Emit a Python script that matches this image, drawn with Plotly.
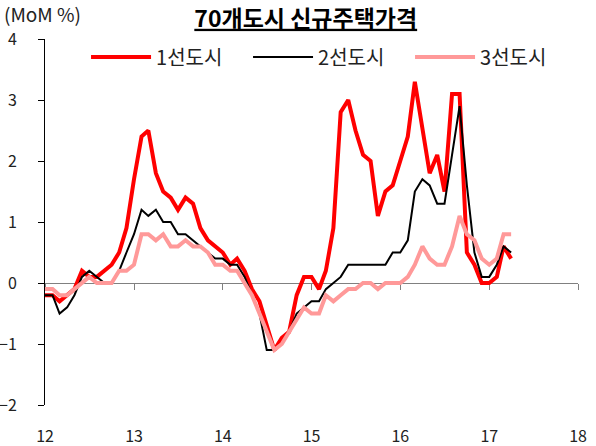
import pandas as pd
import plotly.graph_objects as go

# 월별 전월대비 변동률 (2012.01 ~ 2017.04)
months = pd.date_range('2012-01-01', '2017-04-01', freq='MS')

tier1 = [-0.2, -0.2, -0.3, -0.2, -0.1, 0.2, 0.1, 0.1, 0.2, 0.3, 0.5, 0.9,
         1.7, 2.4, 2.5, 1.8, 1.5, 1.4, 1.2, 1.4, 1.3, 0.9, 0.7, 0.6,
         0.5, 0.3, 0.4, 0.2, -0.1, -0.3, -0.7, -1.1, -0.9, -0.8, -0.2, 0.1,
         0.1, -0.1, 0.2, 0.9, 2.8, 3.0, 2.5, 2.1, 2.0, 1.1, 1.5, 1.6,
         2.0, 2.4, 3.3, 2.5, 1.8, 2.1, 1.5, 3.1, 3.1, 0.5, 0.3, 0.0,
         0.0, 0.1, 0.6, 0.4]
tier2 = [-0.2, -0.2, -0.5, -0.4, -0.2, 0.1, 0.2, 0.1, 0.0, 0.0, 0.2, 0.5,
         0.8, 1.2, 1.1, 1.2, 1.0, 1.0, 0.8, 0.8, 0.7, 0.6, 0.5, 0.4,
         0.4, 0.3, 0.3, 0.1, -0.2, -0.5, -1.1, -1.1, -1.0, -0.8, -0.5, -0.4,
         -0.3, -0.3, -0.1, 0.0, 0.1, 0.3, 0.3, 0.3, 0.3, 0.3, 0.3, 0.5,
         0.5, 0.7, 1.5, 1.7, 1.6, 1.3, 1.3, 2.1, 2.9, 1.6, 0.5, 0.1,
         0.1, 0.3, 0.6, 0.5]
tier3 = [-0.1, -0.1, -0.2, -0.2, -0.1, 0.0, 0.1, 0.0, 0.0, 0.0, 0.2, 0.2,
         0.3, 0.8, 0.8, 0.7, 0.8, 0.6, 0.6, 0.7, 0.6, 0.6, 0.5, 0.3,
         0.3, 0.2, 0.2, 0.0, -0.2, -0.5, -0.8, -1.1, -1.0, -0.8, -0.6, -0.4,
         -0.5, -0.5, -0.2, -0.3, -0.2, -0.1, -0.1, 0.0, 0.0, -0.1, 0.0, 0.0,
         0.0, 0.1, 0.3, 0.6, 0.4, 0.3, 0.3, 0.6, 1.1, 0.8, 0.7, 0.4,
         0.3, 0.4, 0.8, 0.8]

font = 'Noto Sans CJK KR'
x_range = ['2012-01-01', '2018-01-01']

fig = go.Figure()
fig.add_trace(go.Scatter(x=months, y=tier1, name='1선도시', mode='lines',
                         line=dict(color='#FF0000', width=4)))
fig.add_trace(go.Scatter(x=months, y=tier2, name='2선도시', mode='lines',
                         line=dict(color='#000000', width=2)))
fig.add_trace(go.Scatter(x=months, y=tier3, name='3선도시', mode='lines', xaxis='x2',
                         line=dict(color='#FF9999', width=4)))

fig.update_layout(
    width=596, height=446,
    margin=dict(l=45, r=18, t=39, b=41, autoexpand=False),
    paper_bgcolor='white', plot_bgcolor='white',
    font=dict(family=font, size=16, color='#222222'),
    title=dict(text='<b><u>70개도시 신규주택가격</u></b>', x=0.513, xref='container',
               y=0.958, yref='container', xanchor='center', yanchor='middle',
               font=dict(size=23, color='#000000')),
    showlegend=True,
    legend=dict(orientation='h', x=0.077, xanchor='left', y=0.951, yanchor='middle',
                bgcolor='rgba(0,0,0,0)', entrywidth=87, entrywidthmode='pixels',
                itemwidth=60, font=dict(size=20)),
    xaxis=dict(type='date', range=x_range, tick0='2012-01-01', dtick='M12',
               tickformat='%y', showline=False, ticks='', showgrid=False,
               zeroline=False, ticklabelstandoff=20, automargin=False),
    xaxis2=dict(type='date', range=x_range, tick0='2012-01-01', dtick='M12',
                overlaying='x', anchor='free', position=1/3, side='bottom',
                showline=True, linecolor='#808080', linewidth=1,
                ticks='outside', ticklen=6, tickcolor='#808080',
                showticklabels=False, showgrid=False, zeroline=False,
                layer='below traces', automargin=False),
    yaxis=dict(range=[-2, 4], dtick=1, showline=True, linecolor='#000000',
               linewidth=1, ticks='outside', ticklen=6, tickcolor='#000000',
               showgrid=False, zeroline=False, ticklabelstandoff=18,
               automargin=False),
    annotations=[dict(text='(MoM %)', xref='paper', yref='paper', x=-0.081, y=1.069,
                      xanchor='left', yanchor='middle', showarrow=False,
                      font=dict(size=19))],
)

# body 기본 여백 제거
fig.write_html("out.html", config={'displayModeBar': False},
               post_script="document.body.style.margin='0';")
